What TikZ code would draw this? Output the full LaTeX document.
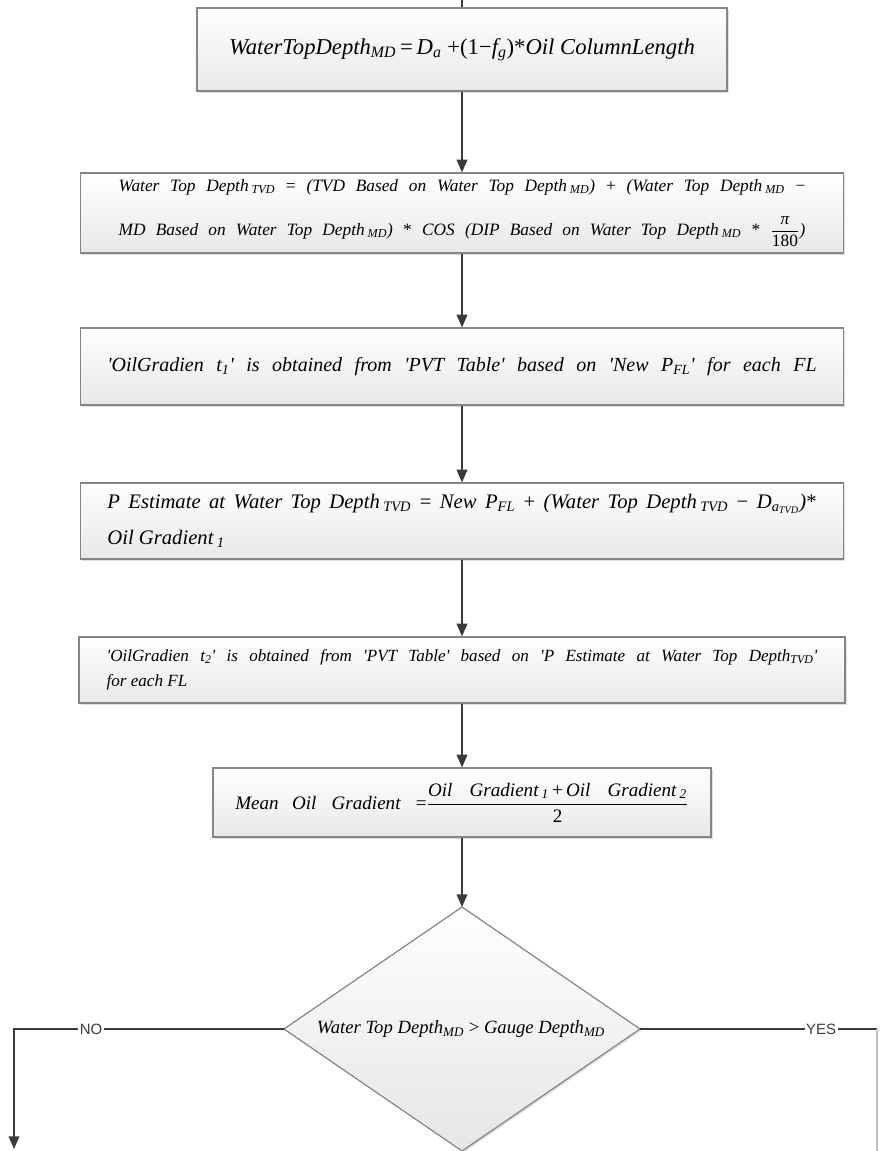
\documentclass[tikz,border=0pt]{standalone}
\usepackage{fontspec}
\usetikzlibrary{arrows.meta,shadows}
\newfontfamily\eqf{Liberation Serif}
\newfontfamily\lblf{Liberation Sans}
\newcommand\eqi{\eqf\itshape}
\newcommand\sq{\textquotesingle}
\newcommand\sub[1]{\textsubscript{#1}}
\newcommand\up[1]{{\upshape#1}}
\definecolor{boxgray}{HTML}{858585}
\definecolor{arrgray}{HTML}{3A3A3A}
\begin{document}
\begin{tikzpicture}[x=0.75pt,y=-0.75pt,
  box/.style={draw=boxgray, line width=0.9pt, top color=white, bottom color=black!9,
    inner sep=0pt, drop shadow={shadow xshift=1.2pt, shadow yshift=-1.2pt, opacity=0.25}},
  arr/.style={draw=arrgray, line width=1pt, -{Triangle[length=9.5pt,width=8pt]}},
  plain/.style={draw=arrgray, line width=1pt},
  lbl/.style={fill=white, inner sep=1.2pt, text=arrgray, font=\lblf\fontsize{11.2}{13}\selectfont}
]
\fill[white] (0,0) rectangle (880,1151);
\useasboundingbox (0,0) rectangle (880,1151);

% boxes
\node[box, minimum width=397.5pt, minimum height=62.25pt, font={\fontsize{17}{20}\eqi}] (b1) at (462,49.5)
  {WaterTopDepth\sub{MD}\,\up{=}\,D\sub{a} \up{+(1−}f\sub{g}\up{)*}Oil ColumnLength};

\node[box, minimum width=572.25pt, minimum height=60pt, align=left, font={\fontsize{13}{33}\eqi}] (b2) at (462,213)
  {\makebox[515pt][s]{Water Top Depth\,\sub{TVD} \up{=} (TVD Based on Water Top Depth\,\sub{MD}) \up{+} (Water Top Depth\,\sub{MD} \up{−}}\\
   \makebox[515pt][s]{MD Based on Water Top Depth\,\sub{MD}) \up{*} COS (DIP Based on Water Top Depth\,\sub{MD} \up{*} $\displaystyle\frac{\mbox{π}}{\mbox{\upshape 180}}$)}};

\node[box, minimum width=572.25pt, minimum height=57.75pt, font={\fontsize{15}{18}\eqi}] (b3) at (462,366.5)
  {\makebox[532pt][s]{\sq OilGradien t\sub{1}\sq{} is obtained from \sq PVT Table\sq{} based on \sq New P\sub{FL}\sq{} for each FL}};

\node[box, minimum width=572.25pt, minimum height=57pt, align=left, font={\fontsize{15.5}{27}\eqi}] (b4) at (462,521)
  {\makebox[532pt][s]{P Estimate at Water Top Depth\,\sub{TVD} \up{=} New P\sub{FL} \up{+} (Water Top Depth\,\sub{TVD} \up{−} D\sub{a\sub{TVD}})\up{*}}\\
   Oil Gradient\,\sub{1}};

\node[box, minimum width=574.5pt, minimum height=49.5pt, align=left, font={\fontsize{12.8}{19}\eqi}] (b5) at (462,670)
  {\makebox[533pt][s]{\sq OilGradien t\sub{2}\sq{} is obtained from \sq PVT Table\sq{} based on \sq P Estimate at Water Top Depth\sub{TVD}\sq}\\
   for each FL};

\node[box, minimum width=373.5pt, minimum height=51.75pt, font={\fontsize{14.3}{17}\eqi}] (b6) at (462,802.5)
  {Mean\hspace{0.7em}Oil\hspace{0.8em}Gradient\hspace{0.8em}\up{=}$\displaystyle\frac{\mbox{Oil\hspace{0.9em}Gradient\,\sub{1}\,\up{+}\,Oil\hspace{0.9em}Gradient\,\sub{2}}}{\mbox{\upshape 2}}$};

% decision diamond
\coordinate (dT) at (462,907);
\coordinate (dR) at (640,1029);
\coordinate (dB) at (462,1151);
\coordinate (dL) at (284,1029);
\path[draw=boxgray, line width=0.9pt, top color=white, bottom color=black!10,
  drop shadow={shadow xshift=1.2pt, shadow yshift=-1.2pt, opacity=0.25}]
  (dT) -- (dR) -- (dB) -- (dL) -- cycle;
\node[font={\fontsize{14}{16}\eqi}] (dtxt) at (461,1029)
  {Water Top Depth\sub{MD} \up{>} Gauge Depth\sub{MD}};

% connectors
\coordinate (top) at (462,0);
\draw[plain] (top) -- (b1.north);
\draw[arr] (b1.south) -- (b2.north);
\draw[arr] (b2.south) -- (b3.north);
\draw[arr] (b3.south) -- (b4.north);
\draw[arr] (b4.south) -- (b5.north);
\draw[arr] (b5.south) -- (b6.north);
\draw[arr] (b6.south) -- (dT);

\coordinate (noK) at (14,1029);
\coordinate (noE) at (14,1149);
\draw[arr] (dL) -- node[lbl, pos=0.715] {NO} (noK) -- (noE);

\coordinate (yesK) at (877,1029);
\coordinate (yesE) at (877,1151);
\draw[plain] (dR) -- node[lbl, pos=0.764] {YES} (yesK);
\draw[plain, draw=black!25] (yesK) -- (yesE);
\end{tikzpicture}
\end{document}
